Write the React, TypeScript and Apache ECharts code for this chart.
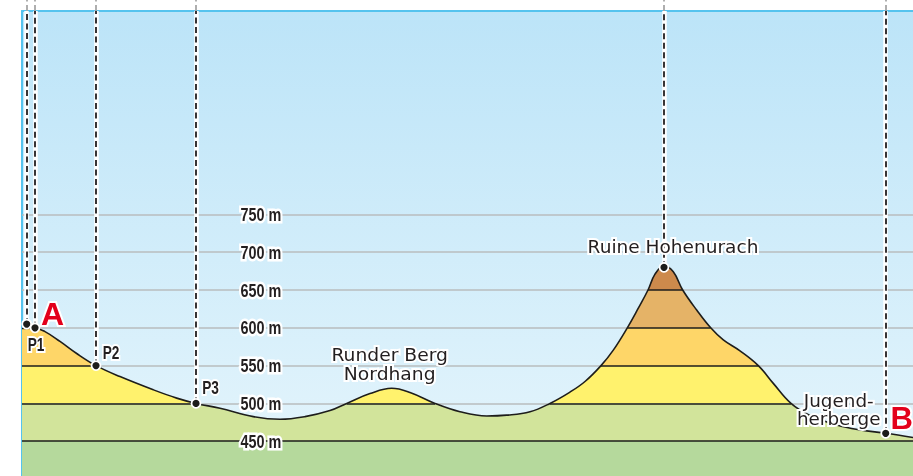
import React, { useEffect, useRef } from "react";
import * as echarts from "echarts";

// distance along the profile (chart units) and elevation in metres
const PROFILE_X = [0, 13, 23, 38, 54.7, 74, 98, 131.3, 154.7, 174, 198, 231.3, 258, 283, 308, 324.7, 348, 369.7, 388, 413, 438, 464.7, 484.7, 508, 528, 548, 563, 579, 591.3, 605.3, 616.3, 626, 633, 642, 651.3, 660.7, 674.7, 688.7, 701.3, 718, 736.3, 751.3, 769, 788, 814.7, 838, 863.7, 891];
const PROFILE_ELEV = [599, 599.5, 595, 582, 566, 550, 535.5, 518, 507, 500, 493.6, 482.5, 479, 482.5, 490.5, 500, 513, 520, 514.5, 500, 489, 483.4, 484.5, 489, 500, 515, 529, 550, 570.5, 600, 626, 650, 671, 682, 674, 650, 623.5, 600, 584, 569.5, 550, 526.5, 500, 484, 471.5, 465, 460.5, 455];

const BAND_LEVELS = [450, 500, 550, 600, 650];
const GRID_LEVELS = [500, 550, 600, 650, 700, 750];
const ELEV_TICKS = [450, 500, 550, 600, 650, 700, 750];
const ELEV_TICK_X = 239;

const X_MIN = 0;
const X_MAX = 891;
const Y_MIN = 404;
const Y_MAX = 1019;
const Y_ABOVE = 1034;

const DOT_X = [4.7, 13, 74, 174, 642, 863.7];
const DOT_ELEV = [605, 600, 550, 500, 680, 460.5];

const LABEL_NAMES = ["A", "P1", "P2", "P3", "Runder Berg\nNordhang", "Ruine Hohenurach", "Jugend-\nherberge", "B"];
const LABEL_X = [13, 13, 74, 174, 369.7, 642, 863.7, 863.7];
const LABEL_ELEV = [600, 600, 550, 500, 520, 680, 460.5, 460.5];

const SANS = "'DejaVu Sans', sans-serif";
const LIB = "'Liberation Sans', Arial, sans-serif";
const DARK = "#231f20";
const RED = "#e3001b";

const LABEL_STYLE: Record<string, any> = {
  A: { offset: [17.5, -13.5], fontSize: 32, fontWeight: "bold", color: RED, fontFamily: LIB, scaleX: 1 },
  P1: { offset: [1, 17], fontSize: 18, fontWeight: "bold", color: DARK, fontFamily: LIB, scaleX: 0.76 },
  P2: { offset: [15, -13], fontSize: 18, fontWeight: "bold", color: DARK, fontFamily: LIB, scaleX: 0.76 },
  P3: { offset: [14.5, -15.5], fontSize: 18, fontWeight: "bold", color: DARK, fontFamily: LIB, scaleX: 0.76 },
  "Runder Berg\nNordhang": { offset: [-2, -24], fontSize: 18, color: DARK, fontFamily: SANS, lineHeight: 19, scaleX: 1.04 },
  "Ruine Hohenurach": { offset: [9, -21], fontSize: 18, color: DARK, fontFamily: SANS, scaleX: 1.03 },
  "Jugend-\nherberge": { offset: [-47, -24], fontSize: 18, color: DARK, fontFamily: SANS, lineHeight: 18, scaleX: 1.02 },
  B: { offset: [16, -15], fontSize: 31, fontWeight: "bold", color: RED, fontFamily: LIB, scaleX: 1 },
};

function segmentsAbove(level: number): number[][][] {
  const segs: number[][][] = [];
  let start: number | null = null;
  for (let i = 0; i < PROFILE_X.length; i++) {
    const above = PROFILE_ELEV[i] >= level;
    if (above && start === null) {
      if (i === 0) start = PROFILE_X[0];
      else {
        const x0 = PROFILE_X[i - 1], x1 = PROFILE_X[i];
        const e0 = PROFILE_ELEV[i - 1], e1 = PROFILE_ELEV[i];
        start = x0 + ((level - e0) / (e1 - e0)) * (x1 - x0);
      }
    } else if (!above && start !== null) {
      const x0 = PROFILE_X[i - 1], x1 = PROFILE_X[i];
      const e0 = PROFILE_ELEV[i - 1], e1 = PROFILE_ELEV[i];
      const end = x0 + ((level - e0) / (e1 - e0)) * (x1 - x0);
      if (end - start > 0.5) segs.push([[start, level], [end, level]]);
      start = null;
    }
  }
  if (start !== null) segs.push([[start, level], [PROFILE_X[PROFILE_X.length - 1], level]]);
  return segs;
}

export default function App() {
  const ref = useRef<HTMLDivElement>(null);
  useEffect(() => {
    if (!ref.current) return;
    const chart = echarts.init(ref.current, null, { renderer: "svg" });
    const profile = PROFILE_X.map((x, i) => [x, PROFILE_ELEV[i]]);
    const bandSegs: any[] = [];
    BAND_LEVELS.forEach((lv) => segmentsAbove(lv).forEach((s) => bandSegs.push({ coords: s })));
    const gridSegs = GRID_LEVELS.map((lv) => ({ coords: [[X_MIN, lv], [X_MAX, lv]] }));
    const dashSegs = DOT_X.map((x, i) => ({ coords: [[x, DOT_ELEV[i]], [x, Y_MAX]] }));
    const aboveSegs = DOT_X.map((x) => ({ coords: [[x, Y_MAX], [x, Y_ABOVE]] }));
    const smooth = 0.4;

    chart.setOption({
      animation: false,
      grid: {
        left: 22, right: 0, top: 11, bottom: 0, show: true, borderWidth: 0,
        backgroundColor: new echarts.graphic.LinearGradient(0, 0, 0, 1, [
          { offset: 0, color: "#bce4f8" },
          { offset: 1, color: "#e5f5fc" },
        ]),
      },
      xAxis: {
        type: "value", min: X_MIN, max: X_MAX, position: "top",
        axisLine: { show: true, onZero: false, lineStyle: { color: "#55c3ee", width: 2 } },
        axisTick: { show: false }, axisLabel: { show: false }, splitLine: { show: false },
      },
      yAxis: {
        type: "value", min: Y_MIN, max: Y_MAX,
        axisLine: { show: true, onZero: false, lineStyle: { color: "#55c3ee", width: 2 } },
        axisTick: { show: false }, axisLabel: { show: false }, splitLine: { show: false },
      },
      visualMap: {
        type: "piecewise", show: false, dimension: 1, seriesIndex: 0,
        pieces: [
          { lt: 450, color: "#b5d99c" },
          { gte: 450, lt: 500, color: "#d2e49b" },
          { gte: 500, lt: 550, color: "#fff26d" },
          { gte: 550, lt: 600, color: "#fed668" },
          { gte: 600, lt: 650, color: "#e5b367" },
          { gte: 650, color: "#cd8a4c" },
        ],
      },
      series: [
        {
          type: "line", data: profile, smooth, showSymbol: false, z: 2,
          lineStyle: { width: 0 }, areaStyle: { opacity: 1 }, silent: true,
        },
        {
          type: "lines", coordinateSystem: "cartesian2d", data: gridSegs, z: 1, silent: true,
          lineStyle: { color: "#b9bcbe", width: 1.6, opacity: 1 },
        },
        {
          type: "lines", coordinateSystem: "cartesian2d", data: bandSegs, z: 3, silent: true,
          lineStyle: { color: "#1d1d1b", width: 1.6, opacity: 1 },
        },
        {
          type: "line", data: profile, smooth, showSymbol: false, z: 4, silent: true,
          lineStyle: { color: "#1d1d1b", width: 1.6 },
        },
        {
          type: "lines", coordinateSystem: "cartesian2d", data: dashSegs, z: 5, silent: true,
          lineStyle: { color: "#ffffff", width: 4.5, opacity: 1 },
        },
        {
          type: "lines", coordinateSystem: "cartesian2d", data: dashSegs, z: 6, silent: true,
          lineStyle: { color: "#231f20", width: 1.8, opacity: 1, type: [6, 3.5] },
        },
        {
          type: "lines", coordinateSystem: "cartesian2d", data: aboveSegs, z: 6, silent: true, clip: false,
          lineStyle: { color: "#a6a6a6", width: 1.8, opacity: 1, type: [6, 3.5] },
        },
        {
          type: "scatter", data: DOT_X.map((x, i) => [x, DOT_ELEV[i]]), z: 7, silent: true,
          symbolSize: 9,
          itemStyle: { color: "#1d1d1b", borderColor: "#ffffff", borderWidth: 1.8, opacity: 1 },
        },
        {
          type: "custom", z: 8, silent: true,
          data: LABEL_X.map((x, i) => [x, LABEL_ELEV[i]]),
          renderItem: (params: any, api: any) => {
            const i = params.dataIndex;
            const name = LABEL_NAMES[i];
            const st = LABEL_STYLE[name];
            const p = api.coord([api.value(0), api.value(1)]);
            return {
              type: "text",
              x: p[0] + st.offset[0],
              y: p[1] + st.offset[1],
              scaleX: st.scaleX,
              style: {
                text: name, fontSize: st.fontSize, fontFamily: st.fontFamily,
                fontWeight: st.fontWeight || "normal", lineHeight: st.lineHeight,
                fill: st.color, stroke: "#ffffff", lineWidth: 4,
                align: "center", verticalAlign: "middle",
              },
            };
          },
        },
        {
          type: "custom", z: 8, silent: true,
          data: ELEV_TICKS.map((lv) => [ELEV_TICK_X, lv]),
          renderItem: (params: any, api: any) => {
            const lv = api.value(1);
            const p = api.coord([api.value(0), lv]);
            return {
              type: "text", x: p[0], y: p[1], scaleX: 0.8,
              style: {
                text: `${lv} m`, fontSize: 18, fontFamily: LIB, fontWeight: "bold",
                fill: DARK, stroke: "#ffffff", lineWidth: 5,
                align: "center", verticalAlign: "middle",
              },
            };
          },
        },
      ],
    });
    return () => chart.dispose();
  }, []);
  return <div ref={ref} style={{ position: "fixed", left: 0, top: 0, width: 913, height: 476 }} />;
}
